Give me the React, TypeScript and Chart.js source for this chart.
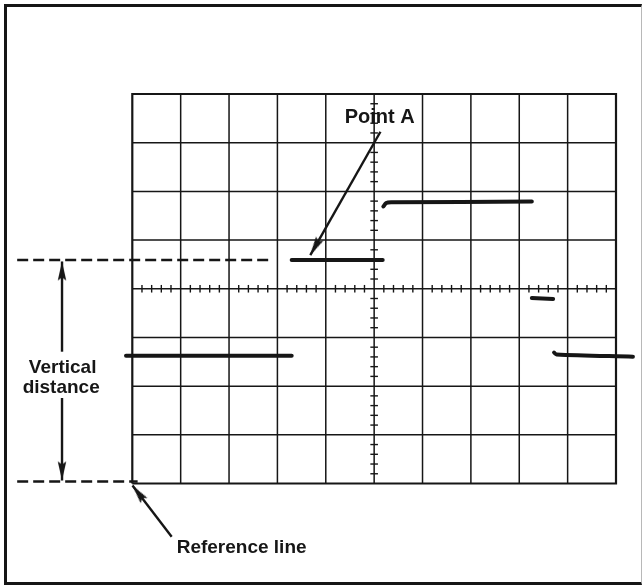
import React, { useEffect, useRef } from "react";
import { Chart, registerables } from "chart.js";

Chart.register(...registerables);

const INK = "#161616";

// Graticule divisions (major lines)
const gridX = [-5, -4, -3, -2, -1, 0, 1, 2, 3, 4, 5];
const gridY = [-4, -3, -2, -1, 0, 1, 2, 3, 4];
const minorPerDiv = 5;

// Visible window of the scales (graticule occupies -5..5 x -4..4)
const X_MIN = -7.7352;
const X_MAX = 5.5375;
const Y_MIN = -6.0847;
const Y_MAX = 5.9307;

// Displayed trace segments (in divisions)
const traceLowLeft = [
  { x: -5.13, y: -1.375 },
  { x: -1.705, y: -1.375 },
];
const traceMiddle = [
  { x: -1.705, y: 0.59 },
  { x: 0.177, y: 0.59 },
];
const traceHigh = [
  { x: 0.19, y: 1.69 },
  { x: 0.25, y: 1.76 },
  { x: 0.35, y: 1.775 },
  { x: 3.26, y: 1.79 },
];
const traceDash = [
  { x: 3.26, y: -0.19 },
  { x: 3.7, y: -0.21 },
];
const traceLowRight = [
  { x: 3.72, y: -1.31 },
  { x: 3.77, y: -1.35 },
  { x: 5.35, y: -1.395 },
];

// Dashed guide lines
const guideUpper = [
  { x: -7.38, y: 0.59 },
  { x: -2.11, y: 0.59 },
];
const guideLower = [
  { x: -7.38, y: -3.96 },
  { x: -4.89, y: -3.96 },
];

// Arrows (tail -> tip)
const arrowPointA = [
  { x: 0.13, y: 3.225 },
  { x: -1.32, y: 0.69 },
];
const arrowUp = [
  { x: -6.453, y: -1.293 },
  { x: -6.453, y: 0.56 },
];
const arrowDown = [
  { x: -6.453, y: -2.244 },
  { x: -6.453, y: -3.938 },
];
const arrowRef = [
  { x: -4.186, y: -5.092 },
  { x: -4.996, y: -4.041 },
];

// Text labels and their anchors (divisions)
const labelTexts = ["Point A", "Vertical", "distance", "Reference line"];
const labelX = [0.115, -6.44, -6.47, -2.74];
const labelY = [3.398, -1.736, -2.147, -5.433];
const labelSize = [20, 19, 19, 19];

function buildGraticule() {
  const inner: any[] = [];
  const x0 = gridX[0];
  const x1 = gridX[gridX.length - 1];
  const y0 = gridY[0];
  const y1 = gridY[gridY.length - 1];
  for (const x of gridX) {
    if (x === x0 || x === x1) continue;
    inner.push({ x, y: y0 }, { x, y: y1 }, { x: null, y: null });
  }
  for (const y of gridY) {
    if (y === y0 || y === y1) continue;
    inner.push({ x: x0, y }, { x: x1, y }, { x: null, y: null });
  }
  const border = [
    { x: x0, y: y0 },
    { x: x0, y: y1 },
    { x: x1, y: y1 },
    { x: x1, y: y0 },
    { x: x0, y: y0 },
  ];
  const ticksOnX: any[] = [];
  for (let k = x0 * minorPerDiv; k <= x1 * minorPerDiv; k++) {
    if (k % minorPerDiv === 0) continue;
    ticksOnX.push({ x: k / minorPerDiv, y: 0 });
  }
  const ticksOnY: any[] = [];
  for (let k = y0 * minorPerDiv; k <= y1 * minorPerDiv; k++) {
    if (k % minorPerDiv === 0) continue;
    ticksOnY.push({ x: 0, y: k / minorPerDiv });
  }
  return { inner, border, ticksOnX, ticksOnY };
}

function makeArrowHead(): HTMLCanvasElement {
  const L = 20;
  const c = document.createElement("canvas");
  c.width = L * 2;
  c.height = 10;
  const g = c.getContext("2d")!;
  g.fillStyle = INK;
  g.beginPath();
  g.moveTo(L, 5);
  g.lineTo(1, 0.8);
  g.lineTo(4, 5);
  g.lineTo(1, 9.2);
  g.closePath();
  g.fill();
  return c;
}

const labelPlugin = {
  id: "labelPlugin",
  afterDatasetsDraw(chart: any) {
    const { ctx } = chart;
    const xs = chart.scales.x;
    const ys = chart.scales.y;
    ctx.save();
    ctx.fillStyle = INK;
    ctx.textAlign = "center";
    ctx.textBaseline = "alphabetic";
    labelTexts.forEach((t, i) => {
      ctx.font = `bold ${labelSize[i]}px "Liberation Sans", Arial, sans-serif`;
      ctx.fillText(t, xs.getPixelForValue(labelX[i]), ys.getPixelForValue(labelY[i]));
    });
    ctx.restore();
  },
};

export default function App() {
  const ref = useRef<HTMLCanvasElement | null>(null);

  useEffect(() => {
    if (!ref.current) return;
    const g = buildGraticule();
    const head = makeArrowHead();

    const rotation = (c: any) => {
      const d = c.dataset.data;
      const xs = c.chart.scales.x;
      const ys = c.chart.scales.y;
      const a = d[0];
      const b = d[d.length - 1];
      return (
        (Math.atan2(
          ys.getPixelForValue(b.y) - ys.getPixelForValue(a.y),
          xs.getPixelForValue(b.x) - xs.getPixelForValue(a.x)
        ) *
          180) /
        Math.PI
      );
    };

    const traceDs = (data: any[]) => ({
      data,
      showLine: true,
      borderColor: INK,
      borderWidth: 4,
      borderCapStyle: "round",
      borderJoinStyle: "round",
      pointRadius: 0,
      tension: 0.3,
      clip: false,
      order: 2,
    });
    const guideDs = (data: any[]) => ({
      data,
      showLine: true,
      borderColor: INK,
      borderWidth: 2.6,
      borderDash: [11, 5],
      pointRadius: 0,
      clip: false,
      order: 3,
    });
    const arrowDs = (data: any[]) => ({
      data,
      showLine: true,
      borderColor: INK,
      borderWidth: 2.4,
      pointRadius: (c: any) => (c.dataIndex === data.length - 1 ? 10 : 0),
      pointStyle: head,
      rotation,
      clip: false,
      order: 1,
    });

    const chart = new Chart(ref.current, {
      type: "scatter",
      data: {
        datasets: [
          {
            data: g.inner,
            showLine: true,
            borderColor: INK,
            borderWidth: 1.5,
            pointRadius: 0,
            spanGaps: false,
            clip: false,
            order: 10,
          },
          {
            data: g.border,
            showLine: true,
            borderColor: INK,
            borderWidth: 2.2,
            borderJoinStyle: "miter",
            pointRadius: 0,
            clip: false,
            order: 9,
          },
          {
            data: g.ticksOnX,
            showLine: false,
            pointStyle: "line",
            pointRadius: 3.8,
            rotation: 90,
            borderColor: INK,
            pointBorderColor: INK,
            pointBorderWidth: 1.4,
            clip: false,
            order: 8,
          },
          {
            data: g.ticksOnY,
            showLine: false,
            pointStyle: "line",
            pointRadius: 3.8,
            rotation: 0,
            borderColor: INK,
            pointBorderColor: INK,
            pointBorderWidth: 1.4,
            clip: false,
            order: 8,
          },
          traceDs(traceLowLeft),
          traceDs(traceMiddle),
          traceDs(traceHigh),
          traceDs(traceDash),
          traceDs(traceLowRight),
          guideDs(guideUpper),
          guideDs(guideLower),
          arrowDs(arrowPointA),
          arrowDs(arrowUp),
          arrowDs(arrowDown),
          arrowDs(arrowRef),
        ] as any,
      },
      options: {
        responsive: false,
        animation: false,
        events: [],
        layout: { padding: 0, autoPadding: false },
        plugins: {
          legend: { display: false },
          tooltip: { enabled: false },
        },
        scales: {
          x: { type: "linear", min: X_MIN, max: X_MAX, display: false },
          y: { type: "linear", min: Y_MIN, max: Y_MAX, display: false },
        },
      } as any,
      plugins: [labelPlugin],
    });
    return () => chart.destroy();
  }, []);

  return (
    <div
      style={{
        position: "absolute",
        left: 0,
        top: 0,
        width: 642,
        height: 585,
        background: "#fff",
        overflow: "hidden",
      }}
    >
      <div
        style={{
          position: "absolute",
          left: 4,
          top: 4,
          width: 638,
          height: 581,
          boxSizing: "border-box",
          borderTop: `3px solid ${INK}`,
          borderLeft: `3px solid ${INK}`,
          borderBottom: `3px solid ${INK}`,
          borderRight: "1px solid #b8b8b8",
        }}
      />
      <canvas
        ref={ref}
        width={642}
        height={585}
        style={{ position: "absolute", left: 0, top: 0 }}
      />
    </div>
  );
}
